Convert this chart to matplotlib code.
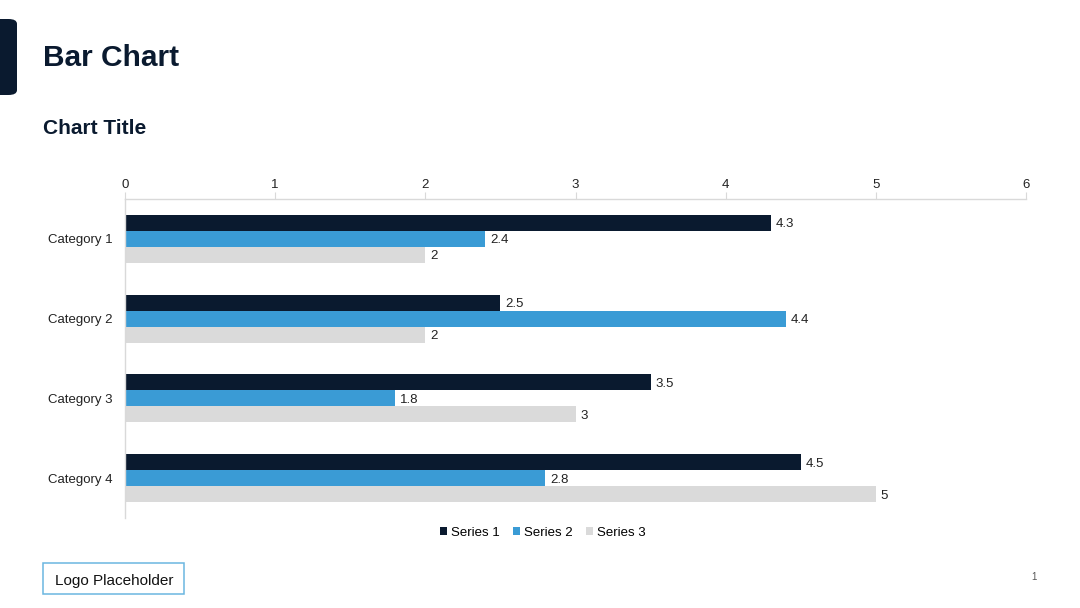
import numpy as np
import matplotlib.pyplot as plt
from matplotlib.patches import FancyBboxPatch, Rectangle

plt.rcParams['font.family'] = ['Liberation Sans', 'DejaVu Sans']

# Данные графика
categories = ['Category 1', 'Category 2', 'Category 3', 'Category 4']
series_names = ['Series 1', 'Series 2', 'Series 3']
series_1 = [4.3, 2.5, 3.5, 4.5]
series_2 = [2.4, 4.4, 1.8, 2.8]
series_3 = [2, 2, 3, 5]
x_ticks = [0, 1, 2, 3, 4, 5, 6]

colors = ['#0A1A2F', '#3A9BD5', '#DADADA']
navy = '#0A1A2F'
axis_grey = '#D9D9D9'

fig = plt.figure(figsize=(10.8, 6.08), dpi=100)

# Тёмная плашка слева
fig.patches.append(FancyBboxPatch((-10 / 1080, 1 - 95 / 608), 27 / 1080, 76 / 608,
                                  boxstyle='round,pad=0,rounding_size=0.008',
                                  transform=fig.transFigure, facecolor=navy,
                                  edgecolor='none'))

fig.text(43 / 1080, 1 - 58.5 / 608, 'Bar Chart', fontsize=21.5, fontweight='bold',
         color=navy, va='center', ha='left')
fig.text(43 / 1080, 1 - 128.5 / 608, 'Chart Title', fontsize=15, fontweight='bold',
         color=navy, va='center', ha='left')

ax = fig.add_axes([125 / 1080, 1 - 518 / 608, (1026 - 125) / 1080, (518 - 199) / 608])

y = np.arange(len(categories))
h = 0.2
for i, vals in enumerate([series_1, series_2, series_3]):
    pos = y + (i - 1) * h
    bars = ax.barh(pos, vals, height=h, color=colors[i], label=series_names[i])
    for b, v in zip(bars, vals):
        ax.text(v + 0.03, b.get_y() + h / 2, f'{v:g}', va='center_baseline', ha='left',
                fontsize=9.5, color='#222222')

ax.set_xlim(0, 6)
ax.set_ylim(len(categories) - 0.5, -0.5)
ax.set_xticks(x_ticks)
ax.set_yticks(y)
ax.set_yticklabels(categories)
ax.xaxis.tick_top()
ax.tick_params(axis='x', length=5, color=axis_grey, labelsize=9.5, labelcolor='#222222', pad=1)
ax.tick_params(axis='y', length=0, labelsize=9.5, labelcolor='#222222', pad=9)
for side in ['right', 'bottom']:
    ax.spines[side].set_visible(False)
for side in ['top', 'left']:
    ax.spines[side].set_color(axis_grey)
    ax.spines[side].set_linewidth(1)

leg = fig.legend(loc='center', bbox_to_anchor=(543 / 1080, 1 - 532.5 / 608), ncol=3,
                 frameon=False, fontsize=9.5, handlelength=0.5, handleheight=0.5,
                 handletextpad=0.35, columnspacing=1.0)

# Логотип
fig.patches.append(Rectangle((43 / 1080, 1 - 594 / 608), 141 / 1080, 31 / 608,
                             transform=fig.transFigure, facecolor='white',
                             edgecolor='#6BB6E0', linewidth=1.1))
fig.text(114 / 1080, 1 - 579 / 608, 'Logo Placeholder', fontsize=11,
         color='#111111', ha='center', va='center_baseline')

fig.text(1034 / 1080, 1 - 577 / 608, '1', fontsize=7, color='#555555',
         ha='center', va='center')

fig.savefig('out.png', dpi=100)
